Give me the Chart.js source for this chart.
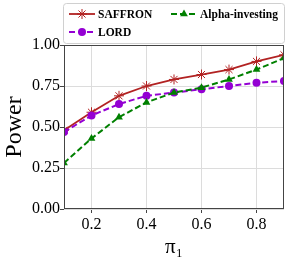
<!DOCTYPE html>
<html>
<head>
<meta charset="utf-8">
<script src="https://cdn.jsdelivr.net/npm/chart.js@4/dist/chart.umd.min.js"></script>
<style>
  html, body { margin: 0; padding: 0; background: #fff; }
  #wrap { width: 291px; height: 260px; position: relative; }
</style>
</head>
<body>
<div id="wrap"><canvas id="power_chart"></canvas></div>
<script>
const pi_values = [0.1, 0.2, 0.3, 0.4, 0.5, 0.6, 0.7, 0.8, 0.9];
const saffron_power = [0.48, 0.59, 0.69, 0.75, 0.79, 0.82, 0.85, 0.90, 0.94];
const lord_power = [0.47, 0.57, 0.64, 0.69, 0.71, 0.73, 0.75, 0.77, 0.78];
const alpha_power = [0.28, 0.43, 0.56, 0.65, 0.71, 0.74, 0.79, 0.85, 0.92];
const x_ticks = [0.2, 0.4, 0.6, 0.8];
const y_ticks = [0, 0.25, 0.5, 0.75, 1.0];

const serif = "'Liberation Serif', 'DejaVu Serif', serif";

function to_points(values) {
    return pi_values.map((x, i) => ({x: x, y: values[i]}));
}

const ds_saffron = {
    label: 'SAFFRON',
    data: to_points(saffron_power),
    borderColor: '#b22222',
    backgroundColor: '#b22222',
    borderWidth: 1.8,
    pointStyle: 'star',
    pointRadius: 5,
    pointBorderWidth: 1,
    clip: 0,
    order: 2,
};

const ds_lord = {
    label: 'LORD',
    data: to_points(lord_power),
    borderColor: '#9400d3',
    backgroundColor: '#9400d3',
    borderWidth: 2,
    borderDash: [6, 3],
    pointStyle: 'circle',
    pointRadius: 4,
    pointBorderWidth: 0,
    clip: 0,
    order: 1,
};

const ds_alpha = {
    label: 'Alpha-investing',
    data: to_points(alpha_power),
    borderColor: '#008000',
    backgroundColor: '#008000',
    borderWidth: 2,
    borderDash: [6, 3],
    pointStyle: 'triangle',
    pointRadius: 4.5,
    pointBorderWidth: 0,
    clip: 0,
    order: 0,
};

// legend entries: [dataset, symbol left x, row y]
const legend_layout = [
    [ds_saffron, 69, 14],
    [ds_alpha, 171, 14],
    [ds_lord, 69, 32],
];

const frame_plugin = {
    id: 'frame',
    afterDatasetsDraw(chart) {
        const a = chart.chartArea;
        const ctx = chart.ctx;
        ctx.save();
        ctx.strokeStyle = '#444';
        ctx.lineWidth = 1;
        ctx.strokeRect(Math.round(a.left) + 0.5, Math.round(a.top) + 0.5,
            Math.round(a.right - a.left) - 1, Math.round(a.bottom - a.top) - 1);
        ctx.restore();
    },
    afterDraw(chart) {
        const ctx = chart.ctx;
        ctx.save();
        // legend box
        ctx.beginPath();
        ctx.roundRect(63.5, 3.5, 221, 40, 3);
        ctx.fillStyle = 'rgba(255,255,255,0.8)';
        ctx.fill();
        ctx.strokeStyle = '#d0d0d0';
        ctx.lineWidth = 1;
        ctx.stroke();

        ctx.font = 'bold 11.5px ' + serif;
        ctx.textBaseline = 'middle';
        for (const [ds, x0, y] of legend_layout) {
            ctx.strokeStyle = ds.borderColor;
            ctx.fillStyle = ds.backgroundColor;
            ctx.lineWidth = ds.borderWidth;
            ctx.setLineDash(ds.borderDash || []);
            ctx.beginPath();
            ctx.moveTo(x0, y);
            ctx.lineTo(x0 + 26, y);
            ctx.stroke();
            ctx.setLineDash([]);
            ctx.lineWidth = ds.pointBorderWidth || 1;
            Chart.helpers.drawPoint(ctx, {
                pointStyle: ds.pointStyle,
                radius: ds.pointRadius,
                rotation: 0,
                borderWidth: ds.pointBorderWidth,
            }, x0 + 13, y);
            ctx.fillStyle = '#000';
            ctx.fillText(ds.label, x0 + 29, y + 1);
        }
        ctx.restore();
    }
};

new Chart(document.getElementById('power_chart'), {
    type: 'line',
    data: {
        datasets: [ds_saffron, ds_lord, ds_alpha]
    },
    options: {
        responsive: true,
        maintainAspectRatio: false,
        animation: false,
        layout: {
            padding: {top: 45, right: 7, left: 0, bottom: 0}
        },
        plugins: {
            legend: {display: false},
            tooltip: {enabled: false},
        },
        scales: {
            x: {
                type: 'linear',
                min: 0.1,
                max: 0.9,
                afterBuildTicks: (scale) => {
                    scale.ticks = x_ticks.map((v) => ({value: v}));
                },
                afterFit: (scale) => { scale.height = 51; },
                grid: {
                    color: '#dcdcdc',
                    tickColor: '#444',
                    tickLength: 4,
                },
                border: {display: false},
                ticks: {
                    color: '#000',
                    padding: 2,
                    maxRotation: 0,
                    font: {family: serif, size: 16},
                    callback: (v) => v.toFixed(1),
                },
                title: {
                    display: true,
                    text: 'π₁',
                    color: '#000',
                    padding: {top: 0, bottom: 0},
                    font: {family: serif, size: 21},
                },
            },
            y: {
                min: 0,
                max: 1,
                afterBuildTicks: (scale) => {
                    scale.ticks = y_ticks.map((v) => ({value: v}));
                },
                afterFit: (scale) => { scale.width = 64; },
                grid: {
                    color: '#dcdcdc',
                    tickColor: '#444',
                    tickLength: 4,
                },
                border: {display: false},
                ticks: {
                    color: '#000',
                    padding: 0,
                    font: {family: serif, size: 16},
                    callback: (v) => v.toFixed(2),
                },
                title: {
                    display: true,
                    text: 'Power',
                    color: '#000',
                    padding: {top: 0, bottom: 0},
                    font: {family: serif, size: 24},
                },
            },
        },
    },
    plugins: [frame_plugin],
});
</script>
</body>
</html>
